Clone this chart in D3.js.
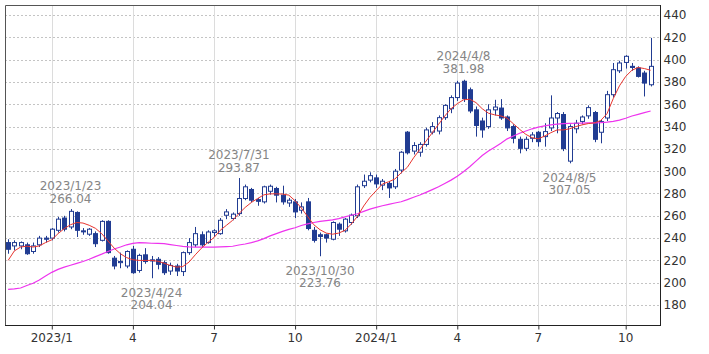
<!DOCTYPE html>
<html><head><meta charset="utf-8">
<script src="https://cdn.jsdelivr.net/npm/d3@7"></script>
<style>
body{margin:0;background:#fff}
svg{display:block}
text{font-family:"DejaVu Sans",Verdana,sans-serif}
</style>
</head><body>
<svg id="chart" width="709" height="354"></svg>
<script>
// ---- data (weekly candles, week starting Monday) ----
const firstWeek = "2022-11-14";
const opens = [236,233,233,234,228,234,240,240,247,258,250,263,246.5,243.5,244,238,255,222,218,215,230,211,225,220.5,221,218,210.5,215,210,227,234,243,236,245,244,260.5,257.6,262,275.5,283.6,274.5,272.5,282,284.5,278.5,271.5,272.5,265,272.5,247,243,243,239,252.5,246.5,254,260,287,292,294,287.5,289,286,301,335,318,317,324,335,336,348,356,366,380.6,373,355,345,340,355,356.6,348.6,340,328.6,320.5,329.5,334.9,331,338.8,347.7,350.8,309,338,344.6,349.6,352.6,334.9,347.7,368.6,390,397.5,394,392.5,388,377.5];
const highs = [239,238,237,236,236,242,242,249,259,260,266.04,264,249,249,246,256,256,224,227,229,233,226,231,224,223,220,218,217,228,240,250,246,247,248,258,266,263,293.87,288,285,276,287,288,286,287,276,275,272,276,250,245,244,255,254,258,262,288,297,299,297,293,291,302,318,336,326,326,339,344,350,360,368,381,381.98,375,358,348,360,364,364.6,350,342,331,331,335,336,343,368,353,353,342,346,350,359,354,346,372,397,399,404,397,394,390,419.5];
const lows = [226,229,230,225,226,232,236,238,245,246,248,241,243,242,232,237,226,212,213,213,208,209,217,204.04,212,207,207,206,206,225,232,232,235,241,243,257,256,260,274,272,269,271,279,272,270,268,258,262,247,236,223.76,236,238,242,245,252,258,285,290,285,283,276,284,298,315,315,313,322,333,333,346,352,363,362,352,331,330,338,350,346,336,325,316,318,326,322,322,336,334,318,307.05,334,342,347,326,325,345,366,388,392,390,384,367,376];
const closes = [230,236,236,226,233,240,239,248,257,248,264,247,246,248,235,255,227,215,219,228,209,224.5,219,219.5,216.5,209,215.5,210.5,227,236,244,234,245.5,246.5,256,263.5,261.5,275.5,286,274,273,286,286.5,278.5,272.5,274,263.5,268,248.6,238,241.5,240,254,248,257,260.6,286,291,296,288.6,291,285,300,317,316.5,323,324,337,340,348,359,366,379,365,354,341,337,355,357.5,347.7,338.8,329.5,320.5,328.6,332.5,326.5,335.5,347.7,351.7,320.3,340,343,348.6,357,328.6,344.5,368.6,391,397,403,393,385,379,394];
const ma13 = [220,228.5,232,232.8,232,233,236,238.5,244,248.5,252,254,253.5,251.5,248.8,244,237.5,231,226,222.5,220.6,220,220,220,219.3,217.5,215.5,214,214.5,218.5,225,231,236,240.5,247,251.5,256,262,267.5,272,275.5,278.8,279.7,279.7,279.5,278.5,273.5,267,259.5,252,247.5,244.5,243.5,244.5,247,252.5,259.5,268.8,276.5,282.5,288.5,290.5,293,298.5,303.5,312,319.5,327,334.5,342,349.5,356,360.5,364,364.5,361.5,356,352,350.5,349.5,347.5,342.5,337.5,333,330,329,331.5,334.5,337,337,338,340,341.5,342.7,343.3,345.5,351.5,365,376.5,385,390.5,393,392,390.5];
const ma26 = [194,194.5,195.3,197.5,199.5,202.5,206,209.3,212,214,215.7,217.3,219,221,223.4,225.6,228,230.2,232,234,235.3,236,235.7,235.4,235.2,235,234.2,233.4,232.6,232.2,232,232,232,232,232.2,232.4,232.7,233.8,234.7,236,237.5,239.5,242,244,246,247.8,249.3,251.3,252.8,254,255,255.7,256.3,257.5,259,260.5,261.8,264,266,267.5,269,270.3,271.5,272.6,274.5,276.6,278.6,281,283.5,286,289,292,295.5,299.5,304,309,314,318,321.5,325,329,331.5,334,336,338,339.5,340.7,341.5,342.2,342.6,342.8,343,343.1,343.3,343.4,343.6,344,344.6,345.8,347.5,349.5,351,352.5,354];
const monthTickDates = ["2023-01-02","2023-04-03","2023-07-03","2023-10-02","2024-01-01","2024-04-01","2024-07-01","2024-10-07"];
const monthTickLabels = ["2023/1","4","7","10","2024/1","4","7","10"];
const yTicks = [180,200,220,240,260,280,300,320,340,360,380,400,420,440];
const noteDates = ["2023-01-23","2023-04-24","2023-07-31","2023-10-30","2024-04-08","2024-08-05"];
const noteLabels = ["2023/1/23","2023/4/24","2023/7/31","2023/10/30","2024/4/8","2024/8/5"];
const noteValues = [266.04,204.04,293.87,223.76,381.98,307.05];
const noteSides = ["high","low","high","low","high","low"];

// ---- layout ----
const L = 5, R = 660, T = 5, B = 325;
const navy = "#213c92";
const fmt = d3.timeFormat("%Y-%m-%d");
const parse = d3.timeParse("%Y-%m-%d");
const weeks = d3.timeMonday.range(parse(firstWeek), d3.timeDay.offset(parse(firstWeek), 7 * closes.length)).map(fmt);
const idx = {}; weeks.forEach((w, i) => idx[w] = i);

const svg = d3.select("#chart");
const x = d3.scaleBand().domain(d3.range(closes.length + 1)).range([L, R]).padding(0);
const bw = x.bandwidth();
const cx = i => x(i) + bw / 2;
const y = d3.scaleLinear().domain([162.1, 449]).range([B, T]);

// grid
svg.append("g").selectAll("line").data(yTicks).join("line")
  .attr("x1", L).attr("x2", R).attr("y1", d => Math.round(y(d)) + 0.5).attr("y2", d => Math.round(y(d)) + 0.5)
  .attr("stroke", "#c4c4c4").attr("stroke-dasharray", "2,2");
const tickIdx = monthTickDates.map(d => idx[d]);
svg.append("g").selectAll("line").data(tickIdx).join("line")
  .attr("x1", d => Math.round(cx(d)) + 0.5).attr("x2", d => Math.round(cx(d)) + 0.5).attr("y1", T).attr("y2", B)
  .attr("stroke", "#dcdcdc");

// candles
const data = closes.map((c, i) => ({i, o: opens[i], h: highs[i], l: lows[i], c}));
const g = svg.append("g");
g.selectAll("line.w").data(data).join("line").attr("class", "w")
  .attr("x1", d => Math.round(cx(d.i)) + 0.5).attr("x2", d => Math.round(cx(d.i)) + 0.5)
  .attr("y1", d => y(d.h)).attr("y2", d => y(d.l)).attr("stroke", navy).attr("stroke-width", 1);
const bodyW = 4;
g.selectAll("rect").data(data).join("rect")
  .attr("x", d => Math.round(cx(d.i)) + 0.5 - bodyW / 2)
  .attr("y", d => y(Math.max(d.o, d.c)))
  .attr("width", bodyW)
  .attr("height", d => Math.max(1, Math.abs(y(d.o) - y(d.c))))
  .attr("fill", d => d.c >= d.o ? "#fff" : navy)
  .attr("stroke", navy).attr("stroke-width", 1);

// moving averages
const line = arr => d3.line().x((d, i) => cx(i)).y(d => y(d))(arr);
svg.append("path").attr("d", line(ma26)).attr("fill", "none").attr("stroke", "#ee33ee").attr("stroke-width", 1.2);
svg.append("path").attr("d", line(ma13)).attr("fill", "none").attr("stroke", "#e8352f").attr("stroke-width", 1);

// frame
svg.append("path").attr("d", `M${L + 0.5},${B}V${T + 0.5}H${R}`).attr("fill", "none").attr("stroke", "#555");

// axes
const yAxis = d3.axisRight(y).tickValues(yTicks).tickSize(0).tickPadding(3);
const ya = svg.append("g").attr("transform", `translate(${R + 0.5},0)`).call(yAxis);
ya.select(".domain").attr("stroke", "#222").attr("d", `M0,${T}V${B + 0.5}`);
ya.selectAll("text").attr("font-size", 12).attr("fill", "#333");

const xAxis = d3.axisBottom(x).tickValues(tickIdx).tickFormat((d, k) => monthTickLabels[k]).tickSize(4).tickPadding(4).tickSizeOuter(0);
const xa = svg.append("g").attr("transform", `translate(0,${B + 0.5})`).call(xAxis);
xa.select(".domain").attr("stroke", "#222").attr("d", `M${L},0H${R + 1}`);
xa.selectAll(".tick line").attr("stroke", "#333").attr("transform", "translate(0.5,0)");
xa.selectAll("text").attr("font-size", 12).attr("fill", "#333");

// annotations
noteDates.forEach((d, k) => {
  const i = idx[d];
  const px = cx(i);
  const yy = y(noteValues[k]);
  let b1, b2;
  if (noteSides[k] === "high") { b2 = yy - 6.5; b1 = b2 - 13; }
  else { b1 = yy + 18.3; b2 = b1 + 12.8; }
  const t = svg.append("g").attr("fill", "#858585").attr("font-size", 12).attr("text-anchor", "middle");
  t.append("text").attr("x", px).attr("y", b1).text(noteLabels[k]);
  t.append("text").attr("x", px).attr("y", b2).text(noteValues[k].toFixed(2));
});
</script>
</body></html>
